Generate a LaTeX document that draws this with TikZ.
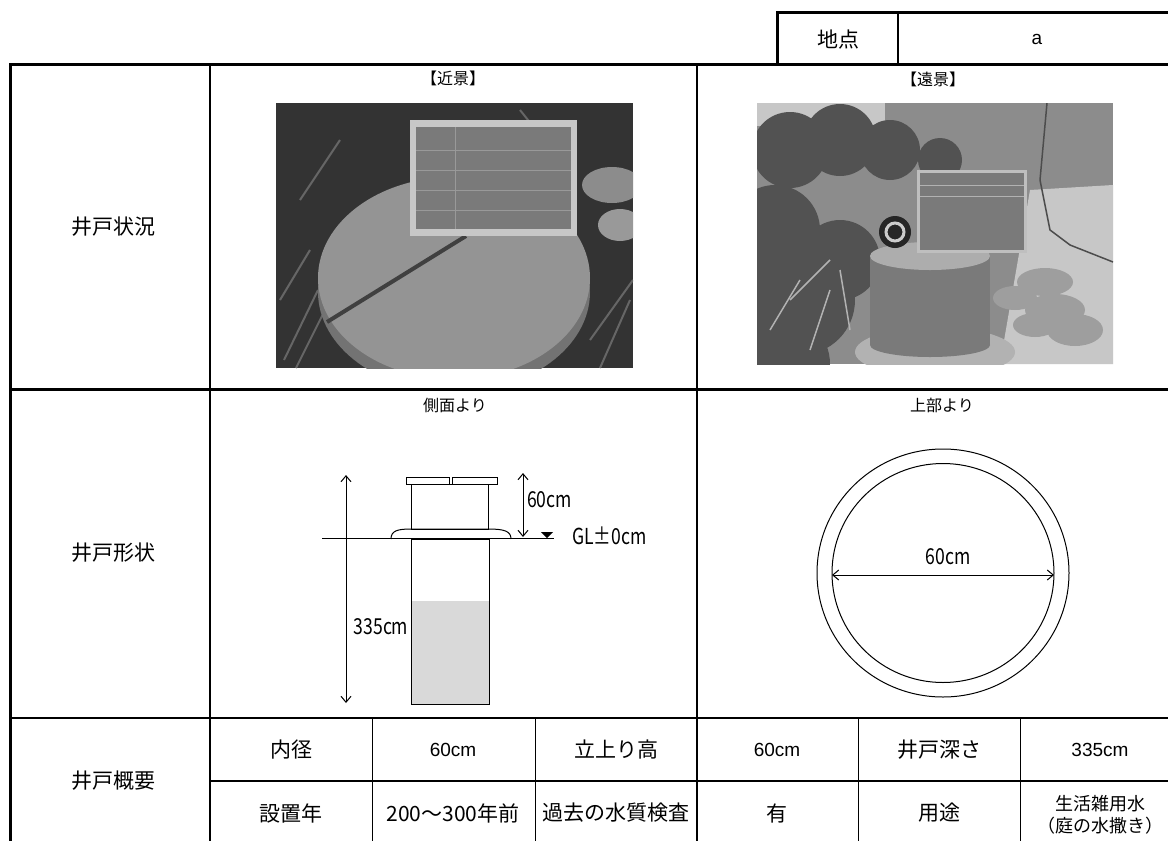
\documentclass[tikz,border=0pt]{standalone}
\usepackage{fontspec}
\setmainfont{Liberation Sans}
\newfontfamily\jp{Noto Sans CJK JP}
\newfontfamily\jplabel[FakeStretch=0.8]{Noto Sans CJK JP}
\usetikzlibrary{arrows.meta,positioning,shapes}

\tikzset{
  frame/.style={line width=3pt},
  rule/.style={line width=1.8pt},
  thinrule/.style={line width=1pt},
  part/.style={line width=1pt},
  cell/.style={font=\jp\fontsize{21}{25}\selectfont, align=center, inner sep=0pt},
  smallcell/.style={font=\jp\fontsize{18}{22}\selectfont, align=center, inner sep=0pt},
  head/.style={font=\jp\fontsize{21}{25}\selectfont, inner sep=0pt},
  caption/.style={font=\jp\fontsize{16}{19}\selectfont, inner sep=0pt},
  dimlabel/.style={font=\jplabel\fontsize{22}{26}\selectfont, inner sep=1pt},
  num/.style={font=\fontsize{19}{23}\selectfont, inner sep=0pt},
}

\begin{document}
\begin{tikzpicture}[x=1pt,y=-1pt,>={Straight Barb[length=6pt,width=10pt]}]
  \clip (0,0) rectangle (1168,841);
  \fill[white] (0,0) rectangle (1168,841);

% Photo near view
  \begin{scope}
    \clip (276,103) rectangle (633,368);
    \fill[black!80] (276,103) rectangle (633,368);
    \foreach \x/\y/\u/\v in {284/360/318/290, 296/368/330/300, 280/300/310/250, 600/368/630/300, 590/340/633/280, 300/200/340/140, 520/110/560/160}
      \draw[black!60, line width=2pt] (\x,\y) -- (\u,\v);
    \fill[black!45] (612,185) ellipse (30 and 18);
    \fill[black!40] (620,225) ellipse (22 and 16);
    \fill[black!55] (454,292) ellipse (136 and 100);
    \fill[black!42] (454,278) ellipse (136 and 101);
    \draw[black!75, line width=4pt] (327,322) -- (466,236);
    \fill[black!22] (410,120) rectangle (577,236);
    \fill[black!52] (416,127) rectangle (571,229);
    \foreach \y in {150,170,190,210}
      \draw[black!40] (416,\y) -- (571,\y);
    \draw[black!40] (455,127) -- (455,229);
  \end{scope}

% Photo far view
  \begin{scope}
    \clip (757,103) rectangle (1113,364);
    \fill[black!45] (757,103) rectangle (1113,364);
    \fill[black!22] (757,103) rectangle (885,126);
    \fill[black!22] (1030,190) -- (1113,185) -- (1113,364) -- (1000,364) -- cycle;
    \draw[black!70, line width=1.5pt] (1047,103) -- (1040,180) -- (1050,230) -- (1070,245) -- (1113,262);
    \foreach \x/\y/\r in {790/150/38, 840/140/36, 890/150/30, 940/160/22, 775/230/45, 800/300/55, 840/260/40, 780/364/50}
      \fill[black!68] (\x,\y) circle ({\r});
    \foreach \x/\y/\u/\v in {770/330/800/280, 810/350/830/290, 850/330/840/270, 790/300/830/260}
      \draw[black!30, line width=1.5pt] (\x,\y) -- (\u,\v);
    \fill[black!30] (935,352) ellipse (80 and 25);
    \foreach \x/\y/\rx/\ry in {1045/282/28/14, 1015/298/22/12, 1055/310/30/16, 1075/330/28/16, 1035/325/22/12}
      \fill[black!38] (\x,\y) ellipse ({\rx} and {\ry});
    \fill[black!52] (870,256) rectangle (990,345);
    \fill[black!52] (930,345) ellipse (60 and 12);
    \fill[black!32] (930,256) ellipse (60 and 14);
    \fill[black!85] (895,232) circle (16);
    \draw[black!20, line width=3pt] (895,232) circle (9);
    \fill[black!25] (917,170) rectangle (1027,253);
    \fill[black!52] (920,173) rectangle (1024,250);
    \foreach \y in {185,196}
      \draw[black!30] (920,\y) -- (1024,\y);
  \end{scope}

% Table frame
  \draw[frame] (777,64) -- (777,12) -- (1190,12);
  \draw[rule] (898,12) -- (898,64);
  \draw[frame] (10,860) -- (10,64) -- (1190,64);
  \draw[rule] (210,64) -- (210,860);
  \draw[rule] (697,64) -- (697,718);
  \draw[frame] (10,389) -- (1190,389);
  \draw[rule] (10,718) -- (1190,718);
  \draw[rule] (210,781) -- (1190,781);
  \foreach \x in {372,535,858,1020}
    \draw[thinrule] (\x,718) -- (\x,860);
  \draw[rule] (697,718) -- (697,860);

% Header
  \node[head] (point) at (838,40) {地点};
  \node[num] (pointname) at (1037,39) {a};

% Row labels
  \node[head] (status) at (113,227) {井戸状況};
  \node[head] (shape) at (113,553) {井戸形状};
  \node[head] (outline) at (113,781) {井戸概要};

% Captions
  \node[caption] (near) at (453,78) {【近景】};
  \node[caption] (far) at (933,79) {【遠景】};
  \node[caption] (side) at (455,405) {側面より};
  \node[caption] (top) at (942,405) {上部より};

% Side view of the well
  \fill[black!15] (411,601) rectangle (489,704);
  \draw[part] (411,539) rectangle (489,704);
  \draw[part] (411,484) rectangle (488,529);
  \draw[part] (406,477) rectangle (449,484);
  \draw[part] (452,477) rectangle (497,484);
  \draw[part] (391,539) .. controls (391,531) and (397,529) .. (411,529) -- (488,529)
    .. controls (504,529) and (511,531) .. (511,539);
  \coordinate (gl-left) at (322,538);
  \coordinate (gl-right) at (554,538);
  \draw[part] (gl-left) -- (gl-right);
  \fill (541,532) -- (553,532) -- (547,538) -- cycle;
  \node[dimlabel, anchor=west] (gl) at (571,536) {GL±0cm};
  \coordinate (rise-top) at (523,473);
  \coordinate (rise-bot) at (523,537);
  \draw[part, <->] (rise-top) -- (rise-bot);
  \node[dimlabel, anchor=west] (rise) at (526,500) {60cm};
  \coordinate (depth-top) at (346,475);
  \coordinate (depth-bot) at (346,703);
  \draw[part, <->] (depth-top) -- (depth-bot);
  \node[dimlabel] (depth) at (381,627) {335cm};

% Top view of the well
  \draw[part] (943,573) ellipse (126 and 124);
  \draw[part] (943,573) ellipse (111 and 109.5);
  \coordinate (dia-left) at (832,575);
  \coordinate (dia-right) at (1054,575);
  \draw[part, <->] (dia-left) -- (dia-right);
  \node[dimlabel] (dia) at (948,557) {60cm};

% Outline cells
  \node[cell] (c11) at (291,750) {内径};
  \node[num] (c12) at (453,750) {60cm};
  \node[cell] (c13) at (616,750) {立上り高};
  \node[num] (c14) at (777,750) {60cm};
  \node[cell] (c15) at (939,750) {井戸深さ};
  \node[num] (c16) at (1100,750) {335cm};
  \node[cell] (c21) at (291,813) {設置年};
  \node[cell] (c22) at (453,813) {200〜300年前};
  \node[cell] (c23) at (616,813) {過去の水質検査};
  \node[cell] (c24) at (777,813) {有};
  \node[cell] (c25) at (939,813) {用途};
  \node[smallcell] (c26) at (1100,815) {生活雑用水\\（庭の水撒き）};
\end{tikzpicture}
\end{document}
